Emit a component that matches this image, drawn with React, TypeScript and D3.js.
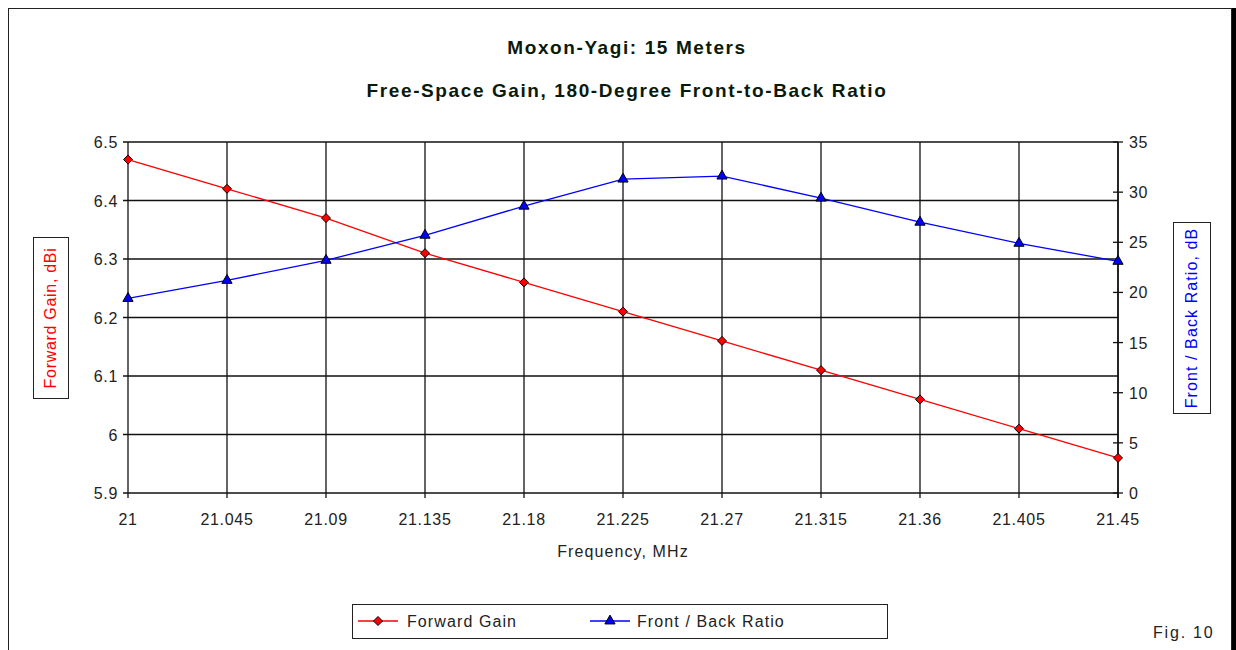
import React from "react";
import * as d3 from "d3";

const categories = ["21", "21.045", "21.09", "21.135", "21.18", "21.225", "21.27", "21.315", "21.36", "21.405", "21.45"];
const forwardGain = [6.47, 6.42, 6.37, 6.31, 6.26, 6.21, 6.16, 6.11, 6.06, 6.01, 5.96];
const frontBack = [19.4, 21.2, 23.2, 25.7, 28.6, 31.3, 31.6, 29.4, 27.0, 24.9, 23.1];
const leftTicks = [5.9, 6, 6.1, 6.2, 6.3, 6.4, 6.5];
const rightTicks = [0, 5, 10, 15, 20, 25, 30, 35];

const W = 1236, H = 650;
const plot = { left: 128, right: 1118, top: 142, bottom: 493 };
const FONT = "'Liberation Sans', Arial, sans-serif";

export default function App() {
  const x = d3.scalePoint<string>().domain(categories).range([plot.left, plot.right]);
  const yL = d3.scaleLinear().domain([5.9, 6.5]).range([plot.bottom, plot.top]);
  const yR = d3.scaleLinear().domain([0, 35]).range([plot.bottom, plot.top]);
  const lineL = d3.line<number>().x((_, i) => x(categories[i])!).y((d) => yL(d));
  const lineR = d3.line<number>().x((_, i) => x(categories[i])!).y((d) => yR(d));
  const tri = d3.symbol().type(d3.symbolTriangle).size(45)();
  const dia = (cx: number, cy: number) => `M${cx},${cy - 4.5}L${cx + 4.5},${cy}L${cx},${cy + 4.5}L${cx - 4.5},${cy}Z`;
  const txt = { fontFamily: FONT, fontSize: 16, fill: "#222", letterSpacing: 1.1 } as const;
  const tick = { fontFamily: FONT, fontSize: 16, fill: "#222", letterSpacing: 0.7 } as const;
  const title = { fontFamily: FONT, fontSize: 19, fontWeight: "bold", fill: "#0a1a0a", letterSpacing: 1.6 } as const;

  return (
    <div style={{ position: "absolute", left: 0, top: 0 }}>
      <svg width={W} height={H} style={{ display: "block", background: "#fff" }}>
        <rect x={8.5} y={8.5} width={1223} height={660} fill="#fff" stroke="#222" strokeWidth={1} />
        <rect x={1232} y={8} width={4} height={642} fill="#000" />
        <text x={627} y={54} textAnchor="middle" {...title}>Moxon-Yagi: 15 Meters</text>
        <text x={627} y={97} textAnchor="middle" {...title}>Free-Space Gain, 180-Degree Front-to-Back Ratio</text>

        {/* gridlines */}
        {leftTicks.map((t) => (
          <line key={"h" + t} x1={plot.left - 5} x2={plot.right} y1={yL(t)} y2={yL(t)} stroke="#111" strokeWidth={1.3} />
        ))}
        {categories.map((c) => (
          <line key={"v" + c} x1={x(c)} x2={x(c)} y1={plot.top} y2={plot.bottom + 5} stroke="#111" strokeWidth={1.3} />
        ))}
        {/* right axis */}
        <line x1={plot.right} x2={plot.right} y1={plot.top} y2={plot.bottom + 5} stroke="#111" strokeWidth={1.5} />
        {rightTicks.map((t) => (
          <line key={"rt" + t} x1={plot.right - 5} x2={plot.right + 5} y1={yR(t)} y2={yR(t)} stroke="#111" strokeWidth={1.3} />
        ))}

        {/* tick labels */}
        {leftTicks.map((t) => (
          <text key={"lt" + t} x={plot.left - 10} y={yL(t) + 6} textAnchor="end" {...tick}>{String(t)}</text>
        ))}
        {rightTicks.map((t) => (
          <text key={"rl" + t} x={plot.right + 11} y={yR(t) + 6} textAnchor="start" {...tick}>{String(t)}</text>
        ))}
        {categories.map((c) => (
          <text key={"xl" + c} x={x(c)} y={525} textAnchor="middle" {...tick}>{c}</text>
        ))}
        <text x={623} y={557} textAnchor="middle" {...txt}>Frequency, MHz</text>

        {/* axis titles */}
        <rect x={33.5} y={237.5} width={35} height={161} fill="#fff" stroke="#222" />
        <text transform={`translate(56,318) rotate(-90)`} textAnchor="middle" {...tick} fill="#ff0000">Forward Gain,  dBi</text>
        <rect x={1173.5} y={222.5} width={37} height={191} fill="#fff" stroke="#222" />
        <text transform={`translate(1197,318) rotate(-90)`} textAnchor="middle" {...txt} fill="#0000ff">Front / Back Ratio,  dB</text>

        {/* series */}
        <path d={lineL(forwardGain) || ""} fill="none" stroke="#ff0000" strokeWidth={1.3} />
        <path d={lineR(frontBack) || ""} fill="none" stroke="#0000ff" strokeWidth={1.3} />
        {forwardGain.map((v, i) => (
          <path key={"m1" + i} d={dia(x(categories[i])!, yL(v))} fill="#ff0000" stroke="#000" strokeWidth={1} />
        ))}
        {frontBack.map((v, i) => (
          <path key={"m2" + i} d={tri!} transform={`translate(${x(categories[i])},${yR(v)})`} fill="#0000ff" stroke="#000" strokeWidth={1} />
        ))}

        {/* legend */}
        <rect x={352.5} y={604.5} width={535} height={34} fill="#fff" stroke="#222" />
        <line x1={358} x2={398} y1={621} y2={621} stroke="#ff0000" strokeWidth={1.3} />
        <path d={dia(378, 621)} fill="#ff0000" stroke="#000" />
        <text x={407} y={627} {...txt}>Forward Gain</text>
        <line x1={590} x2={630} y1={621} y2={621} stroke="#0000ff" strokeWidth={1.3} />
        <path d={tri!} transform="translate(610,621)" fill="#0000ff" stroke="#000" />
        <text x={637} y={627} {...txt}>Front / Back Ratio</text>

        <text x={1153} y={638} {...txt} letterSpacing={1.8}>Fig. 10</text>
      </svg>
    </div>
  );
}
